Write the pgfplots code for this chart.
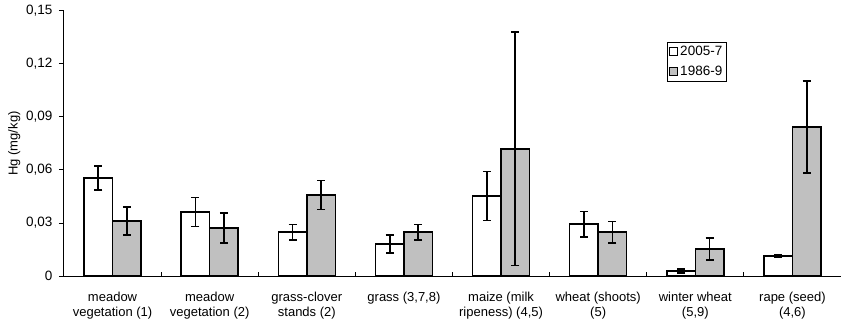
\documentclass[border=0pt]{standalone}
\usepackage{fontspec}
\setmainfont{Liberation Sans}
\usepackage{pgfplots}
\usepackage{pgfplotstable}
\pgfplotsset{compat=1.18}
\definecolor{barGray}{RGB}{192,192,192}
\pgfplotstableread{
x y e
0.5 0.0555 0.0067
1.5 0.0362 0.0082
2.5 0.0249 0.0043
3.5 0.0181 0.0050
4.5 0.0453 0.0139
5.5 0.0294 0.0071
6.5 0.0028 0.0010
7.5 0.0113 0.0006
}\newdata
\pgfplotstableread{
x y e
0.5 0.0311 0.0080
1.5 0.0272 0.0086
2.5 0.0458 0.0082
3.5 0.0249 0.0043
4.5 0.0719 0.0660
5.5 0.0249 0.0060
6.5 0.0153 0.0062
7.5 0.0843 0.0262
}\olddata
\begin{document}
\begin{tikzpicture}[x=1pt,y=1pt]
\begin{axis}[
  at={(0pt,0pt)}, anchor=south west,
  scale only axis, width=777pt, height=265pt,
  xmin=0, xmax=8, ymin=0, ymax=0.15,
  axis lines*=left,
  axis line style={line width=1pt, -},
  ybar=0pt, bar width=28.5pt,
  ytick={0,0.03,0.06,0.09,0.12,0.15},
  yticklabels={0,{0,03},{0,06},{0,09},{0,12},{0,15}},
  xtick={0.5,1.5,2.5,3.5,4.5,5.5,6.5,7.5},
  xticklabels={{meadow\\vegetation (1)}, {meadow\\vegetation (2)}, {grass-clover\\stands (2)}, {grass (3,7,8)\\\mbox{}}, {maize (milk\\ripeness) (4,5)}, {wheat (shoots)\\(5)}, {winter wheat\\(5,9)}, {rape (seed)\\(4,6)}},
  xticklabel style={align=center, font=\fontsize{13}{15}\selectfont, anchor=north, yshift=-13pt},
  yticklabel style={font=\fontsize{13.5}{15}\selectfont, xshift=-8pt},
  major x tick style={draw=none},
  minor xtick={1,2,3,4,5,6,7},
  tick align=inside,
  major tick length=5pt, minor tick length=4pt,
  minor x tick style={line width=1pt, black},
  y tick style={line width=1pt, black, xshift=-5pt},
  ylabel={Hg (mg/kg)},
  ylabel style={at={(axis description cs:-0.064,0.5)}, anchor=center, font=\fontsize{13}{15}\selectfont},
  legend style={at={(0.776,0.883)}, anchor=north west, draw=black, line width=0.6pt,
    font=\fontsize{13.5}{15}\selectfont, row sep=5pt, inner sep=2pt},
  legend image code/.code={\draw[#1, line width=1pt, draw=black] (0pt,-4pt) rectangle (8pt,4pt);},
  legend cell align=left,
]
\addplot[fill=white, draw=black, line width=1.6pt,
  error bars/.cd, y dir=both, y explicit,
  error bar style={line width=1.8pt, black, solid},
  error mark options={rotate=90, mark size=4pt, line width=1.8pt, black}]
  table[x=x, y=y, y error=e] {\newdata};
\addlegendentry{2005-7}
\addplot[fill=barGray, draw=black, line width=1.6pt,
  error bars/.cd, y dir=both, y explicit,
  error bar style={line width=1.8pt, black, solid},
  error mark options={rotate=90, mark size=4pt, line width=1.8pt, black}]
  table[x=x, y=y, y error=e] {\olddata};
\addlegendentry{1986-9}
\end{axis}
\pgfresetboundingbox
\path[use as bounding box] (-64pt,-48pt) rectangle (777pt,276pt);
\end{tikzpicture}
\end{document}
